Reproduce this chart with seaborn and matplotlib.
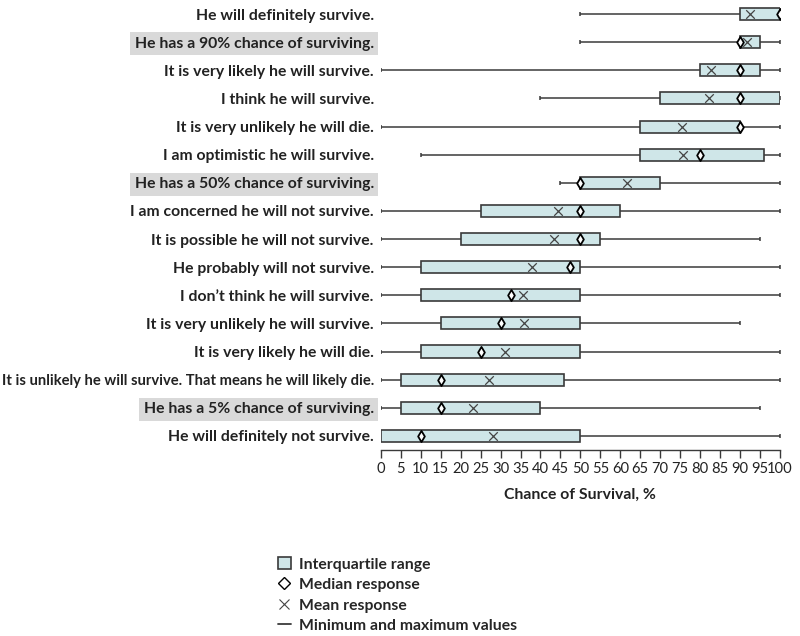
import numpy as np
import pandas as pd
import matplotlib.pyplot as plt
import seaborn as sns
from matplotlib.patches import Patch
from matplotlib.lines import Line2D

# Survey statements, top to bottom
statements = [
    "He will definitely survive.",
    "He has a 90% chance of surviving.",
    "It is very likely he will survive.",
    "I think he will survive.",
    "It is very unlikely he will die.",
    "I am optimistic he will survive.",
    "He has a 50% chance of surviving.",
    "I am concerned he will not survive.",
    "It is possible he will not survive.",
    "He probably will not survive.",
    "I don\u2019t think he will survive.",
    "It is very unlikely he will survive.",
    "It is very likely he will die.",
    "It is unlikely he will survive. That means he will likely die.",
    "He has a 5% chance of surviving.",
    "He will definitely not survive.",
]
lowest = [50, 50, 0, 40, 0, 10, 45, 0, 0, 0, 0, 0, 0, 0, 0, 0]
q1 = [90, 90, 80, 70, 65, 65, 50, 25, 20, 10, 10, 15, 10, 5, 5, 0]
q3 = [100, 95, 95, 100, 90, 96, 70, 60, 55, 50, 50, 50, 50, 46, 40, 50]
medians = [100, 90, 90, 90, 90, 80, 50, 50, 50, 47.5, 32.5, 30, 25, 15, 15, 10]
means = [92.5, 91.8, 82.8, 82.3, 75.5, 75.6, 61.7, 44.4, 43.4, 37.8, 35.5, 35.8, 31.2, 27.0, 23.1, 28.1]
highest = [100, 100, 100, 100, 100, 100, 100, 100, 95, 100, 100, 90, 100, 100, 95, 100]
highlighted = [
    "He has a 90% chance of surviving.",
    "He has a 50% chance of surviving.",
    "He has a 5% chance of surviving.",
]

df = pd.DataFrame({
    "statement": statements,
    "pos": np.arange(len(statements)),
    "lowest": lowest, "q1": q1, "q3": q3,
    "median": medians, "mean": means, "highest": highest,
})

sns.set_theme(style="white")
plt.rcParams["font.family"] = ["Lato", "DejaVu Sans"]

box_fill = "#cfe6e8"
dark = "#3a3a3a"
text_col = "#222222"

fig = plt.figure(figsize=(8, 6.36), dpi=100)
ax = fig.add_axes([0.476, 0.2925, 0.499, 0.7075])

# min-max lines
ax.hlines(df["pos"], df["lowest"], df["highest"], color=dark, lw=1.1, zorder=1)
caps = pd.concat([df[["pos", "lowest"]].rename(columns={"lowest": "v"}),
                  df[["pos", "highest"]].rename(columns={"highest": "v"})])
sns.scatterplot(data=caps, x="v", y="pos", marker="|", s=10, color=dark,
                linewidth=1.1, ax=ax, zorder=1, legend=False)

# interquartile boxes
ax.barh(df["pos"], df["q3"] - df["q1"], left=df["q1"], height=0.43,
        color=box_fill, edgecolor=dark, linewidth=1.2, zorder=2)

# mean and median markers
sns.scatterplot(data=df, x="mean", y="pos", marker="x", s=38, color="#444444",
                linewidth=0.9, ax=ax, zorder=3, legend=False)
sns.scatterplot(data=df, x="median", y="pos", marker="d", s=32, color="white",
                edgecolor="black", linewidth=1.3, ax=ax, zorder=4, legend=False)

ax.set_xlim(0, 100)
ax.set_ylim(len(statements) - 0.5, -0.5)
ax.set_xticks(np.arange(0, 101, 5))
ax.set_yticks(df["pos"])
ax.set_yticklabels(statements, fontweight="bold", fontsize=11.3, color=text_col)
for lab in ax.get_yticklabels():
    if lab.get_text() in highlighted:
        lab.set_bbox(dict(facecolor="#d9d9d9", edgecolor="none", pad=3))
    if len(lab.get_text()) > 50:
        lab.set_fontsize(10.6)
ax.tick_params(axis="y", length=0, pad=5)
ax.tick_params(axis="x", bottom=True, length=6, width=1, color=dark,
               labelsize=10.6, labelcolor=text_col, pad=3)
for side in ["left", "top", "right"]:
    ax.spines[side].set_visible(False)
ax.spines["bottom"].set_color(dark)
ax.spines["bottom"].set_linewidth(1)
ax.set_xlabel("Chance of Survival, %", fontweight="bold", fontsize=11.3,
              color=text_col, labelpad=8)
ax.set_ylabel("")

handles = [
    Patch(facecolor=box_fill, edgecolor=dark, linewidth=1.2),
    Line2D([], [], marker="D", linestyle="none", markerfacecolor="white",
           markeredgecolor="black", markeredgewidth=1.0, markersize=6.5),
    Line2D([], [], marker="x", linestyle="none", color="#444444",
           markeredgewidth=0.8, markersize=7),
    Line2D([], [], color=dark, lw=1.3),
]
labels = ["Interquartile range", "Median response", "Mean response",
          "Minimum and maximum values"]
fig.legend(handles, labels, loc="upper left", bbox_to_anchor=(0.33, 0.146),
           frameon=False, handlelength=0.8, handleheight=0.8, handletextpad=0.55,
           labelspacing=0.38, prop={"weight": "bold", "size": 11.3})

fig.savefig("out.png", dpi=100)
